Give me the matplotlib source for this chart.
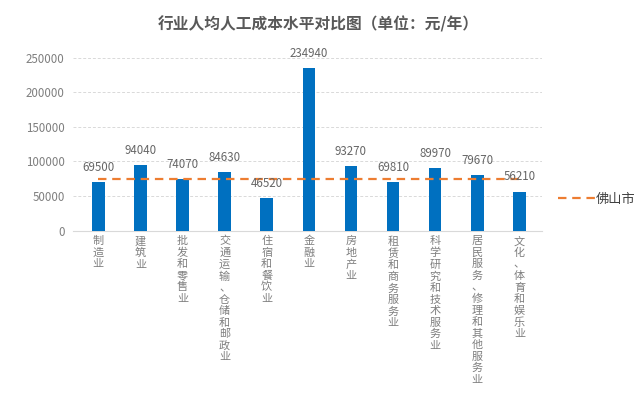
import numpy as np
import matplotlib.pyplot as plt

plt.rcParams['font.family'] = ['Noto Sans CJK SC', 'DejaVu Sans']

# 数据
industries = ["制造业", "建筑业", "批发和零售业", "交通运输、仓储和邮政业", "住宿和餐饮业",
              "金融业", "房地产业", "租赁和商务服务业", "科学研究和技术服务业",
              "居民服务、修理和其他服务业", "文化、体育和娱乐业"]
cost = [69500, 94040, 74070, 84630, 46520, 234940, 93270, 69810, 89970, 79670, 56210]
foshan = [74000] * len(industries)
yticks = [0, 50000, 100000, 150000, 200000, 250000]

fig = plt.figure(figsize=(6.4, 3.99), dpi=100)
ax = fig.add_axes([73 / 640, 1 - 230.5 / 399, (541.7 - 73) / 640, 173 / 399])

x = np.arange(len(industries))
ax.bar(x, cost, width=0.30, color='#0070C0', zorder=3)
ax.plot(x, foshan, color='#ED7D31', linestyle=(0, (3.8, 2.6)), linewidth=1.6,
        label='佛山市', zorder=4)

# 数值标签
for xi, v in zip(x, cost):
    ax.annotate(f"{v}", (xi, v), xytext=(0, 6), textcoords='offset points',
                ha='center', va='bottom', fontsize=8.3, color='#666666', zorder=5)

ax.set_xlim(-0.6, 10.53)
ax.set_ylim(0, 250000)
ax.set_yticks(yticks)
ax.set_yticklabels([str(t) for t in yticks], fontsize=8.3, color='#7f7f7f')
ax.tick_params(axis='y', length=0, pad=6)
ax.tick_params(axis='x', length=0, pad=4)
ax.set_xticks(x)
ax.set_xticklabels(['\n'.join(s) for s in industries], fontsize=8, color='#7f7f7f',
                   va='top', linespacing=1.18)

ax.grid(axis='y', color='#D9D9D9', linestyle=(0, (3, 2)), linewidth=0.7, zorder=0)
for s in ['top', 'right', 'left']:
    ax.spines[s].set_visible(False)
ax.spines['bottom'].set_color('#D9D9D9')
ax.spines['bottom'].set_linewidth(0.8)

ax.legend(loc='center left', bbox_to_anchor=(1.02, 0.18), frameon=False,
          fontsize=9.5, handlelength=2.8, handletextpad=0.1, borderpad=0,
          labelcolor='#404040')

fig.text(0.497, 1 - 24 / 399, '行业人均人工成本水平对比图（单位：元/年）', ha='center',
         va='center', fontsize=11.3, fontweight='bold', color='#595959')

fig.savefig('out.png', dpi=100, facecolor='white')
